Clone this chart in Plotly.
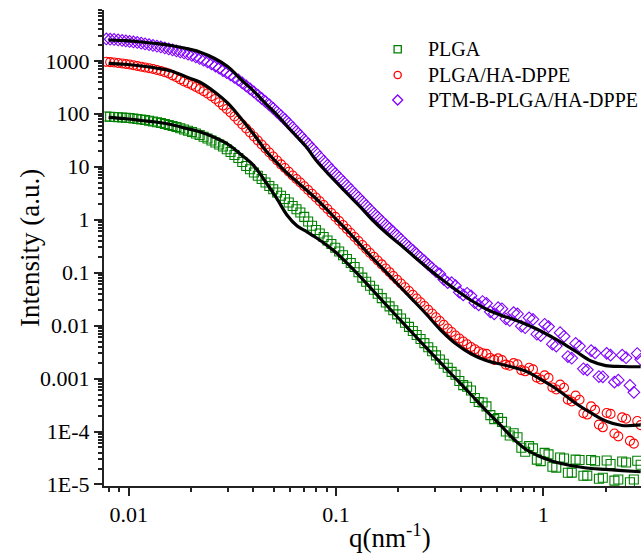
import plotly.graph_objs as go

# scattering vector q (nm^-1), shared by the three measured curves
q_data = [0.0078, 0.00814, 0.0085, 0.00889, 0.0093, 0.00969, 0.0101, 0.01054, 0.011, 0.01149,
          0.012, 0.01254, 0.0131, 0.01369, 0.0143, 0.01494, 0.0156, 0.01628, 0.017, 0.01773,
          0.0185, 0.01933, 0.0202, 0.02108, 0.022, 0.02298, 0.024, 0.02508, 0.0262, 0.02733,
          0.0285, 0.02972, 0.031, 0.03237, 0.0338, 0.03532, 0.0369, 0.03851, 0.0402, 0.04196,
          0.0438, 0.04571, 0.0477, 0.0498, 0.052, 0.0543, 0.0567, 0.0592, 0.0618, 0.06449,
          0.0673, 0.07028, 0.0734, 0.07663, 0.08, 0.08352, 0.0872, 0.09102, 0.095, 0.09921,
          0.1036, 0.10815, 0.1129, 0.11784, 0.123, 0.12838, 0.134, 0.13987, 0.146, 0.15236,
          0.159, 0.16633, 0.174, 0.18135, 0.189, 0.19732, 0.206, 0.21529, 0.225, 0.23479,
          0.245, 0.25576, 0.267, 0.27874, 0.291, 0.30372, 0.317, 0.33118, 0.346, 0.36117,
          0.377, 0.39363, 0.411, 0.4291, 0.448, 0.46757, 0.488, 0.50953, 0.532, 0.55548,
          0.58, 0.60545, 0.632, 0.6599, 0.689, 0.71933, 0.751, 0.78378, 0.818, 0.8542,
          0.892, 0.93114, 0.972, 1.01505, 1.06, 1.10649, 1.155, 1.20588, 1.259, 1.31429,
          1.372, 1.43267, 1.496, 1.56157, 1.63, 1.70193, 1.777, 1.85527, 1.937, 2.02213,
          2.111, 2.20394, 2.301, 2.40229, 2.508, 2.61855, 2.734, 2.83993, 2.95]

plga = [88.9, 87.9, 87.0, 86.1, 85.2, 84.2, 83.3, 81.5, 79.8, 78.1,
        76.4, 73.9, 71.5, 69.2, 67.0, 64.1, 61.4, 58.8, 56.3, 53.3,
        50.5, 47.8, 45.3, 42.5, 39.8, 36.9, 34.2, 31.3, 28.7, 26.3,
        24.1, 21.4, 19.0, 16.7, 14.6, 12.3, 10.3, 8.96, 7.79, 6.76,
        5.87, 5.04, 4.33, 3.76, 3.26, 2.83, 2.46, 2.11, 1.81, 1.57,
        1.37, 1.13, 0.925, 0.769, 0.639, 0.549, 0.471, 0.405, 0.348, 0.296,
        0.251, 0.213, 0.181, 0.152, 0.128, 0.102, 0.0806, 0.0674, 0.0564, 0.0474,
        0.0399, 0.0330, 0.0273, 0.0231, 0.0195, 0.0163, 0.0136, 0.0113, 0.00945, 0.00793,
        0.00665, 0.00557, 0.00467, 0.00391, 0.00327, 0.00274, 0.00229, 0.00191, 0.00160, 0.00134,
        0.00118, 0.000902, 0.000750, 0.000699, 0.000594, 0.000429, 0.000360, 0.000353, 0.000298, 0.000204,
        0.000171, 0.000180, 0.000152, 0.000100, 8.42e-5, 9.25e-5, 7.77e-5, 4.94e-5, 4.15e-5, 5.30e-5,
        4.81e-5, 2.94e-5, 2.76e-5, 3.95e-5, 3.70e-5, 2.16e-5, 2.08e-5, 3.24e-5, 3.09e-5, 1.66e-5,
        1.67e-5, 2.94e-5, 2.89e-5, 1.46e-5, 1.47e-5, 2.90e-5, 2.74e-5, 1.28e-5, 1.34e-5, 2.84e-5,
        2.43e-5, 1.18e-5, 1.24e-5, 2.72e-5, 2.60e-5, 1.10e-5, 1.24e-5, 2.80e-5, 2.35e-5]

plga_ha = [963, 947, 931, 911, 891, 872, 853, 826, 799, 774,
           749, 725, 702, 672, 643, 609, 577, 532, 490, 447,
           407, 377, 350, 321, 294, 267, 242, 214, 190, 165,
           143, 123, 106, 89.0, 74.7, 62.8, 52.8, 44.4, 37.3, 31.3,
           26.3, 22.1, 18.6, 15.6, 13.1, 11.1, 9.47, 8.04, 6.83, 5.87,
           5.04, 4.28, 3.64, 3.09, 2.63, 2.23, 1.89, 1.59, 1.34, 1.13,
           0.945, 0.794, 0.667, 0.560, 0.471, 0.396, 0.333, 0.280, 0.235, 0.200,
           0.170, 0.143, 0.120, 0.102, 0.0865, 0.0735, 0.0624, 0.0530, 0.0450, 0.0382,
           0.0325, 0.0276, 0.0235, 0.0199, 0.0169, 0.0144, 0.0122, 0.0104, 0.00882, 0.00757,
           0.00650, 0.00571, 0.00501, 0.00444, 0.00394, 0.00357, 0.00324, 0.00301, 0.00293, 0.00245,
           0.00225, 0.00240, 0.00223, 0.00183, 0.00175, 0.00196, 0.00186, 0.00144, 0.00137, 0.00160,
           0.00149, 0.00104, 0.000959, 0.00115, 0.00103, 0.000677, 0.000622, 0.000769, 0.000671, 0.000400,
           0.000369, 0.000476, 0.000397, 0.000221, 0.000209, 0.000298, 0.000256, 0.000135, 0.000120, 0.000224,
           0.000215, 9.17e-5, 8.1e-5, 0.000185, 0.000174, 6.66e-5, 5.9e-5, 0.000158, 0.000132]

ptm_ha = [2586, 2558, 2531, 2476, 2423, 2371, 2320, 2270, 2221, 2150,
          2081, 2014, 1950, 1887, 1827, 1749, 1674, 1603, 1535, 1470,
          1407, 1333, 1262, 1183, 1108, 1027, 951, 872, 799, 725,
          657, 596, 541, 485, 435, 382, 335, 294, 258, 224,
          195, 169, 147, 126, 108, 91.8, 78.0, 65.6, 55.1, 46.3,
          38.9, 32.3, 26.9, 22.4, 18.6, 15.4, 12.8, 10.7, 8.87, 7.46,
          6.27, 5.26, 4.42, 3.71, 3.12, 2.63, 2.21, 1.86, 1.56, 1.32,
          1.12, 0.943, 0.794, 0.682, 0.586, 0.498, 0.423, 0.359, 0.305, 0.262,
          0.225, 0.193, 0.166, 0.142, 0.122, 0.105, 0.0947, 0.0745, 0.0647, 0.0645,
          0.0566, 0.0428, 0.0380, 0.0407, 0.0365, 0.0271, 0.0246, 0.0285, 0.0263, 0.0182,
          0.0167, 0.0218, 0.0208, 0.0134, 0.0125, 0.0176, 0.0166, 0.00975, 0.00913, 0.0140,
          0.0131, 0.00689, 0.00647, 0.0106, 0.00957, 0.00445, 0.00411, 0.00734, 0.00629, 0.00260,
          0.00242, 0.00461, 0.00408, 0.00153, 0.00146, 0.00336, 0.00305, 0.00109, 0.00108, 0.00299,
          0.00277, 0.000855, 0.000930, 0.00276, 0.00248, 0.000743, 0.00055, 0.00297, 0.00231]

# model fits (black curves)
q_fit = [0.008, 0.0095, 0.0115, 0.0135, 0.016, 0.019, 0.022, 0.026, 0.030, 0.035,
         0.040, 0.046, 0.052, 0.058, 0.065, 0.072, 0.080, 0.090, 0.10, 0.115,
         0.13, 0.15, 0.175, 0.20, 0.235, 0.275, 0.32, 0.38, 0.45, 0.53,
         0.62, 0.72, 0.82, 0.95, 1.1, 1.25, 1.45, 1.7, 2.0, 2.4, 2.95]

fit_plga = [85.9, 81.5, 74.7, 70.0, 62.8, 52.8, 45.9, 35.7, 26.9, 16.7,
            10.6, 5.04, 2.46, 1.23, 0.760, 0.599, 0.461, 0.333, 0.240, 0.142,
            0.0865, 0.0470, 0.0245, 0.0139, 0.00709, 0.00369, 0.00197, 0.000981, 0.000489, 0.000249,
            0.000133, 7.22e-5, 4.67e-5, 3.45e-5, 2.77e-5, 2.43e-5, 2.18e-5, 2.00e-5, 1.92e-5, 1.83e-5, 1.74e-5]

fit_plga_ha = [899, 861, 799, 733, 643, 495, 399, 258, 160, 79.8,
               41.5, 19.8, 11.8, 7.62, 5.15, 3.64, 2.51, 1.59, 1.03, 0.586,
               0.348, 0.189, 0.101, 0.0584, 0.0304, 0.0159, 0.00826, 0.00449, 0.00291, 0.00219,
               0.00188, 0.00162, 0.00139, 0.00102, 0.000723, 0.000511, 0.000331, 0.000224, 0.000158, 0.000130, 0.000133]

fit_ptm_ha = [2476, 2402, 2270, 2127, 1950, 1711, 1469, 1108, 782, 435,
              270, 153, 94.9, 58.9, 36.5, 23.6, 13.4, 7.96, 5.15, 2.93,
              1.81, 0.987, 0.561, 0.363, 0.211, 0.125, 0.0775, 0.0470, 0.0298, 0.0206,
              0.0159, 0.0130, 0.0107, 0.00826, 0.00609, 0.00459, 0.00317, 0.00214, 0.00176, 0.00169, 0.00167]

names = ['PLGA', 'PLGA/HA-DPPE', 'PTM-B-PLGA/HA-DPPE']
colors = ['#008000', '#ff0000', '#8000ff']
symbols = ['square-open', 'circle-open', 'diamond-open']

y_ticks = [1e-5, 1e-4, 1e-3, 1e-2, 1e-1, 1, 10, 100, 1000]
y_ticktext = ['1E-5', '1E-4', '0.001', '0.01', '0.1', '1', '10', '100', '1000']
x_ticks = [0.01, 0.1, 1]
x_ticktext = ['0.01', '0.1', '1']

FONT = 'Liberation Serif, Times New Roman, serif'

# minor ticks at 2..9 of every decade
x_minor = [k * 10.0 ** e for e in range(-3, 1) for k in range(2, 10)]
y_minor = [k * 10.0 ** e for e in range(-6, 4) for k in range(2, 10)]

traces = []
for name, vals, sym, col in zip(names, [plga, plga_ha, ptm_ha], symbols, colors):
    traces.append(go.Scatter(
        x=q_data, y=vals, mode='markers', name=name, showlegend=False,
        marker=dict(symbol=sym, size=9, color=col, line=dict(width=1.1, color=col))
    ))

for vals in [fit_plga, fit_plga_ha, fit_ptm_ha]:
    traces.append(go.Scatter(
        x=q_fit, y=vals, mode='lines', showlegend=False,
        line=dict(color='black', width=3.2, shape='spline')
    ))

axis_common = dict(
    type='log', showgrid=False, zeroline=False, showline=True, automargin=False,
    linecolor='#222', linewidth=2, mirror=False,
    ticks='outside', ticklen=8, tickwidth=2, tickcolor='#222',
    tickfont=dict(family=FONT, size=22, color='black'),
)

# hand-made legend (symbol shape + text), placed in paper coordinates
legend_y = [0.9174, 0.8634, 0.8109]
legend_shapes = []
for ly, col, kind in zip(legend_y, colors, ['rect', 'circle', 'path']):
    s = dict(type=kind, xref='paper', yref='paper', xsizemode='pixel', ysizemode='pixel',
             xanchor=0.5469, yanchor=ly, line=dict(color=col, width=1.3))
    if kind == 'path':
        s['path'] = 'M -5 0 L 0 5 L 5 0 L 0 -5 Z'
    else:
        s.update(x0=-3.6, x1=3.6, y0=-3.6, y1=3.6)
    legend_shapes.append(s)

legend_text = [dict(text=n, xref='paper', yref='paper', x=0.5996, y=ly, xanchor='left',
                    yanchor='middle', showarrow=False,
                    font=dict(family=FONT, size=20, color='black'))
               for n, ly in zip(names, legend_y)]

layout = go.Layout(
    width=641, height=558, autosize=False,
    margin=dict(l=104, r=0, t=10, b=72, pad=0),
    paper_bgcolor='white', plot_bgcolor='white',
    font=dict(family=FONT, color='black'),
    xaxis=dict(axis_common, range=[-2.1191, 0.4714], tickmode='array',
               tickvals=x_ticks, ticktext=x_ticktext,
               minor=dict(tickmode='array', tickvals=x_minor, ticks='outside',
                          ticklen=4, tickwidth=1.5, tickcolor='#222', showgrid=False)),
    yaxis=dict(axis_common, range=[-5.029, 3.960], tickmode='array',
               tickvals=y_ticks, ticktext=y_ticktext,
               minor=dict(tickmode='array', tickvals=y_minor, ticks='outside',
                          ticklen=4, tickwidth=1.5, tickcolor='#222', showgrid=False)),
    showlegend=False,
    shapes=legend_shapes,
    annotations=[
        dict(text='Intensity (a.u.)', xref='paper', yref='paper', x=-0.1378, y=0.5,
             xanchor='center', yanchor='middle',
             textangle=-90, showarrow=False, font=dict(family=FONT, size=27, color='black')),
        dict(text='q(nm<sup>-1</sup>)', xref='paper', yref='paper', x=0.5326, y=-0.106,
             xanchor='center', yanchor='middle',
             showarrow=False, font=dict(family=FONT, size=27, color='black')),
    ] + legend_text,
)

fig = go.Figure(data=traces, layout=layout)
fig.write_html("out.html", config={'displayModeBar': False},
               post_script="document.body.style.margin='0';")
